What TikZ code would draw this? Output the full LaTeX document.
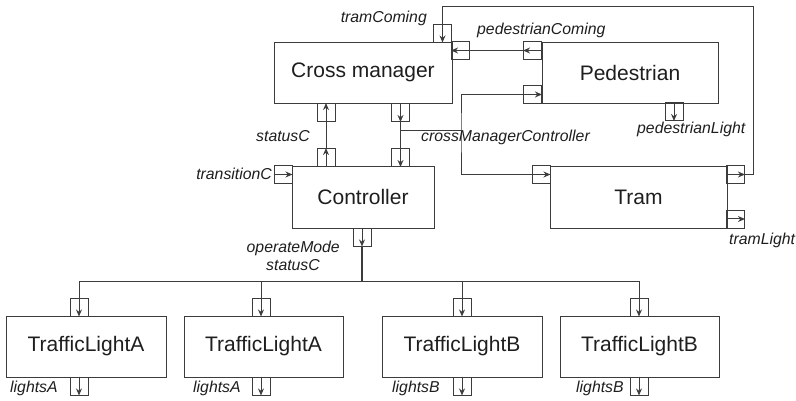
\documentclass[tikz,border=0pt]{standalone}
\usepackage{fontspec}
\setmainfont{Liberation Sans}
\usetikzlibrary{arrows.meta}
\definecolor{ln}{RGB}{60,60,60}
\definecolor{tx}{RGB}{30,30,30}
\begin{document}
\begin{tikzpicture}[x=1pt,y=-1pt,
  blk/.style={draw=ln,line width=0.9pt,inner sep=0pt,font=\fontsize{21}{24}\selectfont,text=tx},
  port/.style={draw=ln,line width=0.9pt,minimum width=18pt,minimum height=18pt,inner sep=0pt},
  pa/.style={draw=ln,line width=1pt,-{Stealth[length=7pt,width=6pt]}},
  wire/.style={draw=ln,line width=1pt},
  lbl/.style={font=\fontsize{15.8}{18}\selectfont\itshape,text=tx,inner sep=0pt}]
\useasboundingbox (0,0) rectangle (796,401);
% blocks
\node[blk,minimum width=178pt,minimum height=61pt] (cm) at (363,72.5) {Cross manager};
\node[blk,minimum width=176pt,minimum height=61pt] (ped) at (630,72.5) {Pedestrian};
\node[blk,minimum width=142pt,minimum height=62pt] (ctrl) at (363,197) {Controller};
\node[blk,minimum width=177pt,minimum height=62pt] (tram) at (638.5,197) {Tram};
\node[blk,minimum width=160pt,minimum height=61pt] (tl1) at (86,346.5) {TrafficLightA};
\node[blk,minimum width=159pt,minimum height=61pt] (tl2) at (263.5,346.5) {TrafficLightA};
\node[blk,minimum width=160pt,minimum height=61pt] (tl3) at (462,346.5) {TrafficLightB};
\node[blk,minimum width=159pt,minimum height=61pt] (tl4) at (639.5,346.5) {TrafficLightB};
% ports
\node[port] (cmtc) at (442.5,33) {};
\node[port] (cmpc) at (460.5,50.5) {};
\node[port] (pedpc) at (532.5,50.5) {};
\node[port] (pedin) at (532.5,94.5) {};
\node[port] (pedl) at (674,111.5) {};
\node[port] (cmst) at (326,112.5) {};
\node[port] (cmcmc) at (400.5,112.5) {};
\node[port] (ctst) at (326,157.5) {};
\node[port] (ctcmc) at (400.5,157.5) {};
\node[port] (cttr) at (283,174.5) {};
\node[port] (ctop) at (362,237) {};
\node[port] (trin) at (541,174.5) {};
\node[port] (trout) at (735.5,174.5) {};
\node[port] (trl) at (735.5,219) {};
\node[port] (t1i) at (79,307) {};
\node[port] (t2i) at (261,307) {};
\node[port] (t3i) at (462,307) {};
\node[port] (t4i) at (639,307) {};
\node[port] (t1o) at (79,386) {};
\node[port] (t2o) at (261,386) {};
\node[port] (t3o) at (462,386) {};
\node[port] (t4o) at (639,386) {};
% port arrows
\foreach \p in {cmtc,pedl,cmcmc,ctcmc,ctop,t1i,t2i,t3i,t4i,t1o,t2o,t3o,t4o}
  \draw[pa] (\p.north) -- (\p.south);
\foreach \p in {cmst,ctst}
  \draw[pa] (\p.south) -- (\p.north);
\foreach \p in {cmpc,pedpc}
  \draw[pa] (\p.east) -- (\p.west);
\foreach \p in {pedin,cttr,trin,trout,trl}
  \draw[pa] (\p.west) -- (\p.east);
% wires
\draw[wire] (ctst.north) -- (cmst.south);
\draw[wire] (cmcmc.south) -- (ctcmc.north);
\draw[wire] (pedpc.west) -- (cmpc.east);
\coordinate (j1) at (400.5,131);
\coordinate (j2) at (461,131);
\draw[wire] (j1) -- (j2);
\draw[wire] (pedin.west) -| (j2) |- (trin.west);
\coordinate (tc) at (753,7);
\draw[wire] (trout.east) -| (tc) -| (cmtc.north);
\coordinate (bus) at (362,281);
\draw[draw=ln,line width=2pt] (ctop.south) -- (bus);
\draw[wire] (bus) -| (t1i.north);
\draw[wire] (bus) -| (t2i.north);
\draw[wire] (bus) -| (t3i.north);
\draw[wire] (bus) -| (t4i.north);
% labels
\node[lbl,anchor=base east] (l1) at (427,23) {tramComing};
\node[lbl,anchor=base west] (l2) at (477,35) {pedestrianComing};
\node[lbl,anchor=base east] (l3) at (310,142) {statusC};
\node[lbl,anchor=base west] (l4) at (421,142) {crossManagerController};
\node[lbl,anchor=base east] (l5) at (272,180) {transitionC};
\node[lbl,anchor=base west] (l6) at (637,134) {pedestrianLight};
\node[lbl,anchor=base west] (l7) at (729,244) {tramLight};
\node[lbl,anchor=base east] (l8) at (340,253) {operateMode};
\node[lbl,anchor=base east] (l9) at (320,270) {statusC};
\node[lbl,anchor=base west] (l10) at (10,392) {lightsA};
\node[lbl,anchor=base west] (l11) at (193,392) {lightsA};
\node[lbl,anchor=base west] (l12) at (392,392) {lightsB};
\node[lbl,anchor=base west] (l13) at (576,392) {lightsB};
\end{tikzpicture}
\end{document}
